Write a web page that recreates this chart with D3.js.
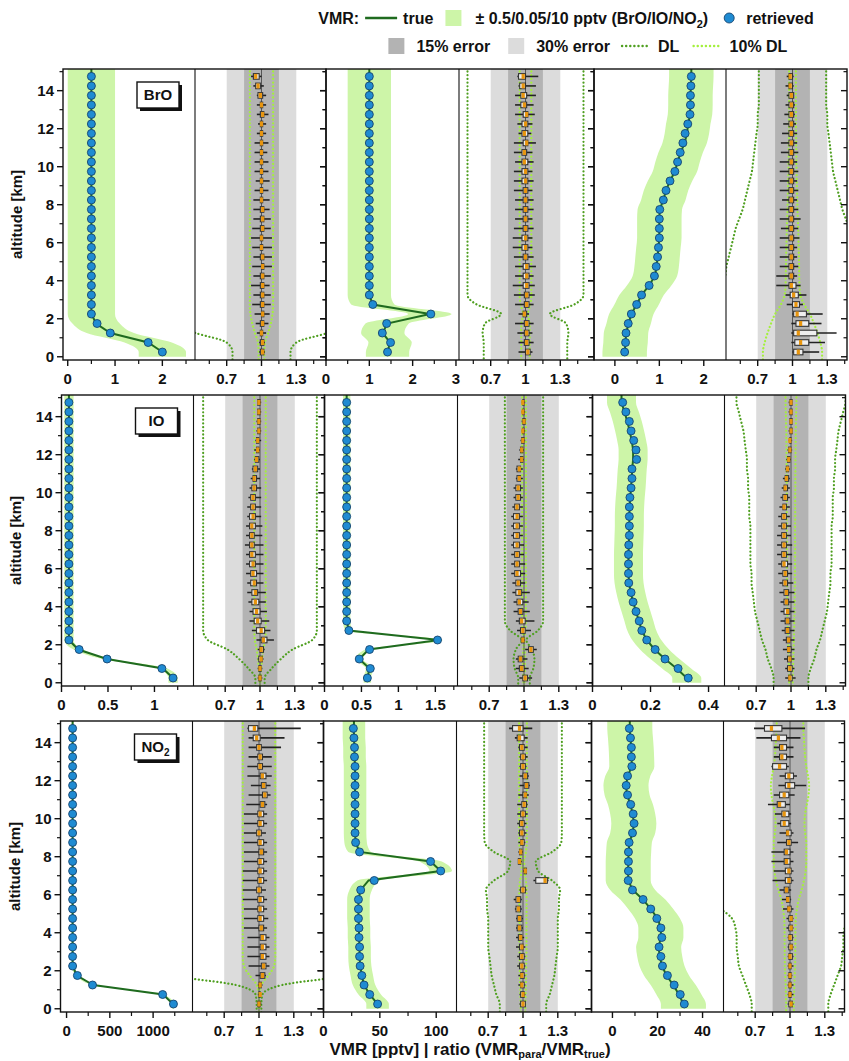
<!DOCTYPE html>
<html>
<head>
<meta charset="utf-8">
<script src="https://cdnjs.cloudflare.com/ajax/libs/d3/7.8.5/d3.min.js"></script>
<style>
  body { margin: 0; background: #fff; }
  text { font-family: "Liberation Sans", Arial, sans-serif; font-weight: bold; fill: #111; }
</style>
</head>
<body>
<script>
// altitude levels (km), top-down
var alt = [14.75,14.25,13.75,13.25,12.75,12.25,11.75,11.25,10.75,10.25,9.75,9.25,8.75,8.25,7.75,
           7.25,6.75,6.25,5.75,5.25,4.75,4.25,3.75,3.25,2.75,2.25,1.75,1.25,0.75,0.25];

// ---- VMR profiles (true / retrieved), top-down ----
var broTrue1 = [0.5,0.5,0.5,0.5,0.5,0.5,0.5,0.5,0.5,0.5,0.5,0.5,0.5,0.5,0.5,0.5,0.5,0.5,0.5,0.5,0.5,0.5,0.5,0.5,0.5,0.5,0.6,0.9,1.7,2.0];
var broRet1  = [0.5,0.5,0.5,0.5,0.5,0.5,0.5,0.5,0.5,0.5,0.5,0.5,0.5,0.5,0.5,0.5,0.5,0.5,0.5,0.5,0.5,0.5,0.5,0.5,0.5,0.5,0.62,0.9,1.7,2.0];
var broTrue2 = [1,1,1,1,1,1,1,1,1,1,1,1,1,1,1,1,1,1,1,1,1,1,1,1,1.08,2.4,1.41,1.31,1.48,1.42];
var broRet2  = [1,1,1,1,1,1,1,1,1,1,1,1,1,1,1,1,1,1,1,1,1,1,1,1,1.08,2.42,1.4,1.3,1.49,1.42];
var broTrue3 = [1.72,1.71,1.7,1.7,1.69,1.65,1.62,1.57,1.48,1.41,1.35,1.24,1.15,1.09,1.01,1.0,1.0,1.0,0.98,0.96,0.94,0.9,0.77,0.6,0.49,0.37,0.31,0.25,0.24,0.22];
var broRet3  = [1.72,1.71,1.7,1.7,1.69,1.64,1.58,1.53,1.47,1.41,1.35,1.24,1.15,1.09,1.01,1.0,1.0,1.0,0.98,0.96,0.93,0.89,0.77,0.6,0.49,0.37,0.3,0.25,0.24,0.22];

var ioTrue1 = [0.08,0.08,0.08,0.08,0.08,0.08,0.08,0.08,0.08,0.08,0.08,0.08,0.08,0.08,0.08,0.08,0.08,0.08,0.08,0.08,0.08,0.08,0.08,0.08,0.08,0.08,0.18,0.49,1.09,1.2];
var ioRet1  = [0.08,0.08,0.08,0.08,0.08,0.08,0.08,0.08,0.08,0.08,0.08,0.08,0.08,0.08,0.08,0.08,0.08,0.08,0.08,0.08,0.08,0.08,0.08,0.08,0.08,0.08,0.19,0.49,1.08,1.2];
var ioTrue2 = [0.3,0.3,0.3,0.3,0.3,0.3,0.3,0.3,0.3,0.3,0.3,0.3,0.3,0.3,0.3,0.3,0.3,0.3,0.3,0.3,0.3,0.3,0.3,0.3,0.33,1.55,0.6,0.47,0.61,0.58];
var ioRet2  = [0.3,0.3,0.3,0.3,0.3,0.3,0.3,0.3,0.3,0.3,0.3,0.3,0.3,0.3,0.3,0.3,0.3,0.3,0.3,0.3,0.3,0.3,0.3,0.3,0.33,1.53,0.61,0.47,0.62,0.58];
var ioTrue3 = [0.1,0.11,0.12,0.128,0.135,0.14,0.14,0.137,0.135,0.133,0.13,0.128,0.127,0.127,0.126,0.125,0.124,0.124,0.124,0.126,0.132,0.14,0.15,0.16,0.17,0.187,0.214,0.25,0.29,0.325];
var ioRet3  = [0.104,0.115,0.127,0.133,0.142,0.15,0.152,0.136,0.136,0.133,0.129,0.127,0.127,0.127,0.127,0.125,0.124,0.124,0.124,0.125,0.133,0.14,0.15,0.161,0.17,0.187,0.216,0.25,0.295,0.33];

var no2True1 = [70,70,70,70,70,70,70,70,70,70,70,70,70,70,70,70,70,70,70,70,70,70,70,70,70,70,120,308,1115,1230];
var no2Ret1  = [70,70,70,70,70,70,70,70,70,70,70,70,70,70,70,70,70,70,70,70,70,70,70,70,70,70,125,300,1110,1235];
var no2True2 = [27,27,27.5,27.5,28,28,28,28,28,28,28,28,28.5,32,95,104,40,33,31,31,31,31.5,31.5,32,32,32.5,34,36,41,48];
var no2Ret2  = [26.5,27,27.5,27.5,28,28,28,28,28,28,28,28,28.5,32,95,104,45,33,31,31,31,31.5,31.5,32,32,32.5,34,36,41,48];
var no2True3 = [7.7,8,8.3,8.5,8.6,6.8,6,6.5,8,9,9.5,9,7.5,7.2,7,7,7,9,13.5,17,20,21.5,21.5,20.5,21,22,24,27,29.5,31.5];
var no2Ret3  = [7.5,8,8.4,8.4,8.6,6.7,6.1,6.7,8.1,9.2,9.6,8.9,7.4,7.1,7.1,7.1,7,8.9,13.6,17,19.7,21.5,21.9,20.7,21.5,22.2,24.4,27.4,30.1,31.9];

// ---- relative detection limit (DL / VMR), top-down ----
var broDl1 = [1,1,1,1,1,1,1,1,1,1,1,1,1,1,1,1,1,1,1,1,1,1,1,1,1,0.95,0.8,0.57,0.3,0.25];
var broDl2 = [0.5,0.5,0.5,0.5,0.5,0.5,0.5,0.5,0.5,0.5,0.5,0.5,0.5,0.5,0.5,0.5,0.5,0.5,0.5,0.5,0.5,0.5,0.5,0.5,0.42,0.21,0.35,0.37,0.36,0.36];
var broDl3 = [0.29,0.29,0.29,0.29,0.3,0.3,0.31,0.32,0.33,0.34,0.35,0.37,0.39,0.41,0.43,0.46,0.49,0.51,0.53,0.55,0.57,0.58,0.6,0.68,1.0,1.5,1.85,2.15,2.4,2.55];
var ioDl1 = [0.49,0.49,0.49,0.49,0.49,0.49,0.49,0.49,0.49,0.49,0.49,0.49,0.49,0.49,0.49,0.49,0.49,0.49,0.49,0.49,0.49,0.49,0.49,0.49,0.49,0.45,0.28,0.18,0.1,0.04];
var ioDl2 = [0.165,0.165,0.165,0.165,0.165,0.165,0.165,0.165,0.165,0.165,0.165,0.165,0.165,0.165,0.165,0.165,0.165,0.165,0.165,0.165,0.165,0.165,0.165,0.165,0.12,0.02,0.07,0.09,0.08,0.05];
var ioDl3 = [0.47,0.45,0.43,0.41,0.4,0.39,0.38,0.38,0.37,0.37,0.36,0.36,0.36,0.35,0.35,0.35,0.35,0.35,0.34,0.34,0.33,0.32,0.31,0.29,0.27,0.25,0.22,0.2,0.17,0.15];
var no2Dl1 = [1.4,1.4,1.4,1.4,1.4,1.4,1.4,1.4,1.4,1.4,1.4,1.4,1.4,1.4,1.4,1.4,1.4,1.4,1.4,1.4,1.4,1.4,1.4,1.4,1.4,1.3,0.8,0.2,0.03,0.02];
var no2Dl2 = [0.335,0.335,0.335,0.335,0.335,0.335,0.335,0.335,0.335,0.335,0.335,0.335,0.33,0.25,0.11,0.13,0.25,0.32,0.31,0.31,0.3,0.3,0.3,0.3,0.29,0.28,0.27,0.25,0.23,0.2];
var no2Dl3 = [1.15,1.2,1.25,1.3,1.4,1.55,1.65,1.6,1.45,1.3,1.25,1.3,1.4,1.4,1.4,1.35,1.2,1.0,0.75,0.6,0.5,0.47,0.46,0.46,0.45,0.44,0.41,0.38,0.35,0.33];

// ---- ratio box plots [whisker low, q1, median, q3, whisker high], top-down ----
var broBox1 = [[0.91,0.93,0.95,0.98,1.0],[0.93,0.95,0.97,0.99,1.02],[0.96,0.97,0.99,1.01,1.04],[0.96,0.99,1.0,1.01,1.04],
 [0.96,0.99,1.01,1.02,1.06],[0.97,0.99,1.0,1.01,1.04],[0.96,0.99,1.0,1.01,1.04],[0.94,0.99,1.0,1.01,1.06],
 [0.94,0.99,1.0,1.01,1.05],[0.94,0.99,1.0,1.01,1.06],[0.94,0.99,1.0,1.01,1.06],[0.95,0.99,1.0,1.01,1.07],
 [0.94,0.99,1.0,1.01,1.06],[0.93,0.99,1.0,1.01,1.07],[0.93,0.99,1.01,1.02,1.07],[0.93,0.99,1.01,1.02,1.08],
 [0.92,0.99,1.01,1.02,1.08],[0.91,0.99,1.0,1.01,1.09],[0.92,0.99,1.0,1.01,1.09],[0.93,0.99,1.01,1.02,1.09],
 [0.92,1.0,1.01,1.02,1.09],[0.93,0.99,1.01,1.02,1.08],[0.91,0.99,1.01,1.02,1.07],[0.93,0.99,1.01,1.02,1.08],
 [0.92,0.99,1.01,1.02,1.08],[0.94,1.0,1.01,1.02,1.07],[0.95,0.99,1.01,1.02,1.06],[0.96,0.99,1.0,1.01,1.04],
 [0.98,0.99,1.01,1.02,1.03],[0.98,0.99,1.01,1.02,1.03]];
var broBox2 = [[0.93,0.94,0.98,1.0,1.11],[0.94,0.95,0.98,1.0,1.09],[0.91,0.96,0.98,1.01,1.09],[0.91,0.96,0.99,1.01,1.07],
 [0.91,0.98,1.01,1.02,1.08],[0.93,0.97,1.0,1.02,1.06],[0.94,0.97,0.99,1.02,1.05],[0.9,0.98,1.01,1.02,1.09],
 [0.9,0.97,0.99,1.01,1.06],[0.91,0.97,0.99,1.02,1.07],[0.9,0.97,1.0,1.02,1.06],[0.9,0.97,1.0,1.02,1.07],
 [0.9,0.98,1.0,1.02,1.06],[0.91,0.98,1.0,1.02,1.07],[0.91,0.98,1.0,1.02,1.07],[0.91,0.98,1.0,1.02,1.06],
 [0.9,0.98,1.0,1.02,1.07],[0.89,0.97,1.0,1.02,1.06],[0.89,0.97,1.0,1.02,1.06],[0.9,0.98,1.0,1.02,1.07],
 [0.91,0.98,1.01,1.03,1.09],[0.91,0.98,1.01,1.03,1.07],[0.89,0.98,1.01,1.03,1.08],[0.9,0.99,1.01,1.03,1.08],
 [0.91,0.99,1.01,1.03,1.07],[0.94,0.98,0.99,1.01,1.03],[0.91,0.99,1.01,1.03,1.07],[0.93,0.99,1.01,1.03,1.06],
 [0.94,0.99,1.01,1.03,1.07],[0.94,1.0,1.02,1.04,1.06]];
var broBox3 = [[0.95,0.97,0.98,1.0,1.01],[0.94,0.97,0.98,1.0,1.01],[0.95,0.97,0.99,1.01,1.01],[0.94,0.97,0.99,1.01,1.02],
 [0.93,0.97,0.99,1.01,1.02],[0.92,0.97,0.99,1.01,1.03],[0.91,0.97,0.99,1.01,1.04],[0.9,0.97,0.99,1.01,1.04],
 [0.9,0.97,0.99,1.01,1.05],[0.89,0.97,0.99,1.01,1.04],[0.89,0.97,0.99,1.01,1.05],[0.89,0.97,0.99,1.01,1.04],
 [0.89,0.97,0.99,1.01,1.05],[0.91,0.97,0.99,1.01,1.04],[0.89,0.97,0.99,1.01,1.05],[0.89,0.97,0.99,1.01,1.07],
 [0.9,0.97,0.99,1.01,1.05],[0.89,0.97,0.99,1.01,1.06],[0.89,0.97,0.99,1.01,1.04],[0.89,0.97,0.99,1.01,1.04],
 [0.89,0.97,0.99,1.01,1.05],[0.86,0.97,0.99,1.01,1.04],[0.86,0.97,0.99,1.03,1.07],[0.94,0.98,1.01,1.05,1.12],
 [0.95,1.0,1.03,1.06,1.09],[1.0,1.01,1.04,1.12,1.26],[0.99,1.03,1.07,1.14,1.25],[0.99,1.01,1.05,1.21,1.38],
 [0.99,1.02,1.07,1.14,1.28],[1.0,1.01,1.05,1.09,1.23]];
var ioBox1 = [[0.98,0.98,0.99,1.0,1.01],[0.98,0.98,0.99,1.0,1.01],[0.97,0.98,0.99,1.0,1.01],[0.97,0.98,0.99,1.0,1.01],
 [0.96,0.97,0.98,0.99,1.01],[0.95,0.97,0.98,0.99,1.0],[0.95,0.96,0.97,0.99,1.0],[0.93,0.94,0.96,0.98,1.0],
 [0.92,0.94,0.95,0.97,1.0],[0.91,0.93,0.95,0.97,1.01],[0.9,0.92,0.94,0.96,1.01],[0.89,0.92,0.94,0.96,1.01],
 [0.89,0.91,0.94,0.96,1.01],[0.88,0.91,0.93,0.96,1.02],[0.88,0.91,0.93,0.95,1.02],[0.87,0.91,0.93,0.95,1.03],
 [0.88,0.91,0.93,0.96,1.03],[0.88,0.91,0.94,0.96,1.03],[0.88,0.92,0.94,0.97,1.03],[0.89,0.92,0.95,0.97,1.03],
 [0.89,0.93,0.96,0.98,1.05],[0.9,0.93,0.96,0.99,1.05],[0.91,0.94,0.97,1.0,1.06],[0.91,0.95,0.98,1.01,1.08],
 [0.93,0.97,1.01,1.04,1.09],[0.97,1.01,1.03,1.06,1.12],[0.98,1.0,1.01,1.03,1.04],[0.98,0.99,1.01,1.02,1.03],
 [0.98,0.99,1.0,1.01,1.02],[0.98,0.99,1.0,1.01,1.02]];
var ioBox2 = [[0.98,0.99,0.99,1.0,1.01],[0.98,0.99,0.99,1.0,1.01],[0.98,0.99,1.0,1.01,1.01],[0.98,0.99,0.99,1.0,1.01],
 [0.97,0.98,0.99,1.0,1.01],[0.96,0.97,0.98,0.99,1.0],[0.95,0.97,0.98,0.99,1.0],[0.93,0.94,0.96,0.97,0.99],
 [0.93,0.94,0.96,0.97,0.99],[0.91,0.93,0.95,0.97,0.99],[0.91,0.93,0.95,0.97,0.99],[0.9,0.92,0.94,0.96,0.99],
 [0.89,0.91,0.94,0.96,0.99],[0.89,0.91,0.94,0.96,0.99],[0.89,0.91,0.94,0.96,0.99],[0.89,0.91,0.94,0.96,1.0],
 [0.89,0.92,0.94,0.96,1.0],[0.89,0.92,0.94,0.96,1.01],[0.89,0.92,0.94,0.97,1.01],[0.9,0.93,0.95,0.97,1.01],
 [0.9,0.93,0.96,0.98,1.05],[0.91,0.94,0.96,0.99,1.04],[0.91,0.95,0.97,0.99,1.05],[0.93,0.96,0.98,1.01,1.09],
 [0.94,0.97,0.99,1.01,1.06],[0.97,0.98,0.99,1.0,1.01],[1.01,1.04,1.06,1.08,1.11],[0.93,0.95,0.97,0.99,1.03],
 [0.93,0.96,0.98,1.0,1.04],[0.96,0.99,1.01,1.03,1.07]];
var ioBox3 = [[0.98,0.99,1.0,1.01,1.01],[0.98,0.99,1.0,1.01,1.01],[0.99,0.99,1.0,1.01,1.01],[0.98,0.99,1.0,1.01,1.01],
 [0.98,0.99,0.99,1.0,1.01],[0.97,0.98,0.99,1.0,1.01],[0.96,0.97,0.98,0.99,1.0],[0.95,0.96,0.97,0.98,0.99],
 [0.93,0.95,0.96,0.98,0.99],[0.92,0.94,0.95,0.97,0.99],[0.91,0.93,0.95,0.97,0.99],[0.9,0.93,0.94,0.96,0.99],
 [0.89,0.92,0.94,0.96,0.99],[0.89,0.92,0.94,0.96,1.0],[0.88,0.92,0.94,0.96,1.0],[0.88,0.92,0.94,0.96,1.01],
 [0.88,0.92,0.94,0.96,1.01],[0.89,0.92,0.94,0.97,1.01],[0.89,0.93,0.95,0.97,1.01],[0.9,0.93,0.95,0.97,1.02],
 [0.9,0.94,0.96,0.98,1.03],[0.91,0.94,0.96,0.98,1.03],[0.91,0.94,0.97,0.99,1.03],[0.91,0.95,0.97,0.99,1.03],
 [0.92,0.95,0.97,0.99,1.03],[0.93,0.96,0.98,0.99,1.03],[0.93,0.97,0.98,1.0,1.03],[0.94,0.97,0.99,1.0,1.03],
 [0.95,0.97,0.99,1.01,1.03],[0.95,0.98,0.99,1.01,1.04]];
var no2Box1 = [[0.9,0.91,0.96,0.99,1.36],[0.91,0.95,0.98,1.01,1.22],[0.91,0.98,1.0,1.02,1.19],[0.91,0.99,1.01,1.03,1.11],
 [0.9,0.99,1.01,1.03,1.11],[0.9,1.01,1.03,1.06,1.11],[0.93,1.02,1.04,1.06,1.1],[0.91,1.03,1.05,1.07,1.1],
 [0.89,1.01,1.03,1.05,1.07],[0.87,0.99,1.01,1.04,1.07],[0.87,0.99,1.01,1.04,1.07],[0.87,0.98,1.0,1.02,1.06],
 [0.87,0.99,1.01,1.04,1.07],[0.87,1.0,1.02,1.04,1.07],[0.87,0.99,1.01,1.04,1.07],[0.86,0.99,1.01,1.04,1.07],
 [0.86,0.99,1.01,1.04,1.07],[0.86,0.98,1.0,1.02,1.06],[0.86,0.99,1.01,1.04,1.07],[0.87,0.99,1.01,1.04,1.07],
 [0.87,0.99,1.01,1.04,1.08],[0.87,1.0,1.02,1.04,1.07],[0.9,1.01,1.03,1.06,1.09],[0.9,1.01,1.03,1.06,1.09],
 [0.9,1.01,1.03,1.06,1.09],[0.91,1.02,1.04,1.06,1.09],[0.97,1.01,1.03,1.05,1.06],[0.99,1.0,1.01,1.02,1.03],
 [0.99,1.0,1.01,1.01,1.02],[0.99,0.99,1.0,1.01,1.02]];
var no2Box2 = [[0.88,0.91,0.97,1.0,1.08],[0.93,0.95,0.97,1.01,1.04],[0.96,0.97,0.99,1.01,1.04],[0.97,0.98,1.0,1.02,1.04],
 [0.97,0.98,1.0,1.02,1.03],[0.97,1.0,1.02,1.04,1.05],[0.97,1.01,1.03,1.05,1.06],[0.96,1.0,1.02,1.03,1.05],
 [0.95,0.99,1.01,1.03,1.04],[0.95,0.98,1.0,1.02,1.04],[0.95,0.97,0.99,1.01,1.03],[0.96,0.97,0.99,1.01,1.03],
 [0.96,0.98,0.99,1.01,1.02],[0.96,0.97,0.98,0.99,1.0],[0.96,0.96,0.97,0.98,0.99],[1.0,1.01,1.02,1.03,1.03],
 [1.09,1.11,1.19,1.21,1.22],[0.97,0.98,1.0,1.02,1.03],[0.92,0.94,0.96,0.98,0.99],[0.93,0.94,0.96,0.98,0.99],
 [0.94,0.95,0.97,0.99,1.0],[0.94,0.95,0.97,0.99,1.0],[0.94,0.96,0.98,0.99,1.01],[0.94,0.97,0.99,1.0,1.02],
 [0.95,0.97,0.99,1.01,1.02],[0.95,0.97,0.99,1.01,1.02],[0.96,0.98,0.99,1.01,1.02],[0.96,0.98,0.99,1.01,1.02],
 [0.97,0.98,1.0,1.01,1.02],[0.97,0.98,1.0,1.02,1.02]];
var no2Box3 = [[0.69,0.78,0.84,0.93,1.13],[0.71,0.84,0.9,0.97,1.09],[0.86,0.91,0.93,0.97,1.03],[0.86,0.91,0.93,0.97,1.03],
 [0.84,0.85,0.91,0.97,0.99],[0.91,0.96,0.99,1.03,1.06],[0.9,0.96,0.99,1.04,1.14],[0.86,0.91,0.95,0.99,1.04],
 [0.81,0.89,0.91,0.96,1.0],[0.87,0.93,0.95,0.99,1.01],[0.89,0.92,0.95,0.99,1.01],[0.91,0.97,0.98,1.01,1.03],
 [0.89,0.97,0.99,1.01,1.07],[0.84,0.95,0.97,1.0,1.03],[0.84,0.95,0.97,1.0,1.03],[0.86,0.96,0.99,1.01,1.03],
 [0.85,0.96,0.99,1.01,1.03],[0.91,0.95,0.97,0.99,1.01],[0.93,0.97,0.98,1.0,1.01],[0.94,0.98,0.99,1.01,1.03],
 [0.97,0.99,1.01,1.02,1.03],[0.97,0.99,1.01,1.02,1.03],[0.98,0.99,1.0,1.02,1.03],[0.98,0.99,1.01,1.02,1.03],
 [0.98,0.99,1.0,1.02,1.03],[0.98,0.99,1.0,1.01,1.03],[0.98,0.99,1.0,1.01,1.02],[0.98,0.99,1.0,1.01,1.03],
 [0.98,0.99,1.0,1.01,1.03],[0.98,0.99,1.01,1.02,1.03]];

// axis ticks
var altMajor = [0,2,4,6,8,10,12,14], altMinor = [1,3,5,7,9,11,13,15];
var ratioMajor = [0.7,1,1.3], ratioMinor = [0.55,0.85,1.15,1.45];

var rows = [
  { label: "BrO", delta: 0.5, panels: [
    { dom: [-0.1,2.69], major: [0,1,2], minor: [0.5,1.5,2.5], tru: broTrue1, ret: broRet1, box: broBox1, dl: broDl1 },
    { dom: [0,3.07], major: [0,1,2,3], minor: [0.5,1.5,2.5], tru: broTrue2, ret: broRet2, box: broBox2, dl: broDl2 },
    { dom: [-0.47,2.5], major: [0,1,2], minor: [-0.5,0.5,1.5], tru: broTrue3, ret: broRet3, box: broBox3, dl: broDl3 } ]},
  { label: "IO", delta: 0.05, panels: [
    { dom: [0,1.42], major: [0,0.5,1], minor: [0.25,0.75,1.25], tru: ioTrue1, ret: ioRet1, box: ioBox1, dl: ioDl1 },
    { dom: [0,1.8], major: [0,0.5,1,1.5], minor: [0.25,0.75,1.25,1.75], tru: ioTrue2, ret: ioRet2, box: ioBox2, dl: ioDl2 },
    { dom: [0,0.455], major: [0,0.2,0.4], minor: [0.1,0.3], tru: ioTrue3, ret: ioRet3, box: ioBox3, dl: ioDl3 } ]},
  { label: "NO2", delta: 10, panels: [
    { dom: [-70,1455], major: [0,500,1000], minor: [250,750,1250], tru: no2True1, ret: no2Ret1, box: no2Box1, dl: no2Dl1 },
    { dom: [0,118], major: [0,50,100], minor: [25,75], tru: no2True2, ret: no2Ret2, box: no2Box2, dl: no2Dl2 },
    { dom: [-9.3,49.3], major: [0,20,40], minor: [10,30], tru: no2True3, ret: no2Ret3, box: no2Box3, dl: no2Dl3 } ]}
];

// ---- layout ----
var rowTops = [69, 395, 721], rowH = 291, rowShift = [0, -1.5, -2.5];
var pairX = [[63,195,326],[326,459,594],[594,726,847]];
var yDom = [-0.17, 15.14];
var ratioPx = 116, ratioOff = 66.5;

var C = {
  band: "#cdf5a8", line: "#1f6b1f", dot: "#1f8bd2", dotEdge: "#17456f",
  err30: "#dcdcdc", err15: "#b3b3b3", dl: "#4f9f20", dl10: "#a4f03c",
  med: "#e8950e", boxEdge: "#333", whisk: "#222"
};

var svg = d3.select("body").append("svg").attr("width", 849).attr("height", 1061);
var defs = svg.append("defs");
var nClip = 0;
function clip(x0, x1, y0, y1) {
  var id = "cp" + (nClip++);
  defs.append("clipPath").attr("id", id).append("rect")
    .attr("x", x0).attr("y", y0).attr("width", x1 - x0).attr("height", y1 - y0);
  return "url(#" + id + ")";
}

rows.forEach(function(row, r) {
  var top = rowTops[r], bot = top + rowH, sh = rowShift[r];
  var y = d3.scaleLinear().domain(yDom).range([bot, top]);

  row.panels.forEach(function(p, k) {
    var x0 = pairX[k][0] + sh, x1 = pairX[k][1] + sh, x2 = pairX[k][2] + sh;
    var xv = d3.scaleLinear().domain(p.dom).range([x0, x1]);
    var xr = d3.scaleLinear().domain([1 - ratioOff / ratioPx, 1 + (x2 - x1 - ratioOff) / ratioPx]).range([x1, x2]);

    // --- VMR panel ---
    var gv = svg.append("g").attr("clip-path", clip(x0, x1, top, bot));
    var pts = alt.map(function(a, i) { return { a: a, v: p.tru[i] }; });
    var bandPts = [{ a: 15.4, v: p.tru[0] }].concat(pts, [{ a: 0, v: p.tru[pts.length - 1] }]);
    gv.append("path").datum(bandPts)
      .attr("fill", C.band)
      .attr("d", d3.area().curve(d3.curveMonotoneY)
        .y(function(d) { return y(d.a); })
        .x0(function(d) { return xv(d.v - row.delta); })
        .x1(function(d) { return xv(d.v + row.delta); }));
    gv.append("path").datum([{ a: 15.4, v: p.tru[0] }].concat(pts))
      .attr("fill", "none").attr("stroke", C.line).attr("stroke-width", 2)
      .attr("d", d3.line().x(function(d) { return xv(d.v); }).y(function(d) { return y(d.a); }));
    gv.selectAll("circle").data(p.ret).join("circle")
      .attr("cx", function(d) { return xv(d); })
      .attr("cy", function(d, i) { return y(alt[i]); })
      .attr("r", 4).attr("fill", C.dot).attr("stroke", C.dotEdge).attr("stroke-width", 0.9);

    // --- ratio panel ---
    var gr = svg.append("g").attr("clip-path", clip(x1, x2, top, bot));
    gr.append("rect").attr("x", xr(0.7)).attr("width", xr(1.3) - xr(0.7))
      .attr("y", top).attr("height", rowH).attr("fill", C.err30);
    gr.append("rect").attr("x", xr(0.85)).attr("width", xr(1.15) - xr(0.85))
      .attr("y", top).attr("height", rowH).attr("fill", C.err15);

    var dlPts = [{ a: 15.4, d: p.dl[0] }].concat(alt.map(function(a, i) { return { a: a, d: p.dl[i] }; }),
                 [{ a: -0.3, d: p.dl[p.dl.length - 1] }]);
    [[1, C.dl], [0.1, C.dl10]].forEach(function(f) {
      [-1, 1].forEach(function(s) {
        gr.append("path").datum(dlPts)
          .attr("fill", "none").attr("stroke", f[1]).attr("stroke-width", 2.2)
          .attr("stroke-dasharray", "0.1,3.6").attr("stroke-linecap", "round")
          .attr("d", d3.line().curve(d3.curveMonotoneY)
            .x(function(d) { return xr(1 + s * f[0] * d.d); })
            .y(function(d) { return y(d.a); }));
      });
    });
    gr.append("line").attr("x1", xr(1)).attr("x2", xr(1)).attr("y1", top).attr("y2", bot)
      .attr("stroke", "#555").attr("stroke-width", 1);

    var bx = gr.selectAll("g.bx").data(p.box).join("g").attr("class", "bx")
      .attr("transform", function(d, i) { return "translate(0," + y(alt[i]) + ")"; });
    bx.append("line").attr("x1", function(d) { return xr(d[0]); }).attr("x2", function(d) { return xr(d[4]); })
      .attr("stroke", C.whisk).attr("stroke-width", 1.6);
    bx.append("rect").attr("x", function(d) { return xr(d[1]); })
      .attr("width", function(d) { return Math.max(xr(d[3]) - xr(d[1]), 1); })
      .attr("y", -2.8).attr("height", 5.6)
      .attr("fill", "#eeeeee").attr("stroke", C.boxEdge).attr("stroke-width", 1.1);
    bx.append("rect").attr("x", function(d) { return xr(d[2]) - 1.6; }).attr("width", 3.2)
      .attr("y", -2.5).attr("height", 5).attr("fill", C.med);

    // --- frame ---
    var gf = svg.append("g");
    gf.append("rect").attr("x", x0).attr("y", top).attr("width", x2 - x0).attr("height", rowH)
      .attr("fill", "none").attr("stroke", "#111").attr("stroke-width", 1.4);
    gf.append("line").attr("x1", x1).attr("x2", x1).attr("y1", top).attr("y2", bot)
      .attr("stroke", "#111").attr("stroke-width", 1.1);

    // altitude ticks (left edge, outward) and mirror ticks on right edge
    [x0, x2].forEach(function(xx) {
      altMajor.forEach(function(a) {
        gf.append("line").attr("x1", xx - 6).attr("x2", xx).attr("y1", y(a)).attr("y2", y(a))
          .attr("stroke", "#111").attr("stroke-width", 1.4);
      });
      altMinor.forEach(function(a) {
        gf.append("line").attr("x1", xx - 3.5).attr("x2", xx).attr("y1", y(a)).attr("y2", y(a))
          .attr("stroke", "#111").attr("stroke-width", 1.2);
      });
    });

    // x ticks
    function xTicks(sc, major, minor) {
      var d = sc.domain();
      major.filter(function(v) { return v >= d[0] - 1e-9 && v <= d[1] + 1e-9; }).forEach(function(v) {
        gf.append("line").attr("x1", sc(v)).attr("x2", sc(v)).attr("y1", bot).attr("y2", bot + 6)
          .attr("stroke", "#111").attr("stroke-width", 1.4);
        gf.append("text").attr("x", sc(v)).attr("y", bot + 24).attr("text-anchor", "middle")
          .attr("font-size", 15).text(String(v));
      });
      minor.filter(function(v) { return v > d[0] && v < d[1]; }).forEach(function(v) {
        gf.append("line").attr("x1", sc(v)).attr("x2", sc(v)).attr("y1", bot).attr("y2", bot + 4)
          .attr("stroke", "#111").attr("stroke-width", 1.2);
      });
    }
    xTicks(xv, p.major, p.minor);
    xTicks(xr, ratioMajor, ratioMinor);

    if (k === 0) {
      altMajor.forEach(function(a) {
        gf.append("text").attr("x", x0 - 9).attr("y", y(a) + 5).attr("text-anchor", "end")
          .attr("font-size", 15).text(a);
      });
      gf.append("text").attr("transform", "translate(" + (x0 - 41) + "," + (top + rowH / 2) + ") rotate(-90)")
        .attr("text-anchor", "middle").attr("font-size", 15).text("altitude [km]");

      // species tag
      var bw = 42, bh = 26, bxx = x0 + 74, byy = top + 13;
      gf.append("rect").attr("x", bxx + 3).attr("y", byy + 3).attr("width", bw).attr("height", bh).attr("fill", "#111");
      gf.append("rect").attr("x", bxx).attr("y", byy).attr("width", bw).attr("height", bh)
        .attr("fill", "#fff").attr("stroke", "#111").attr("stroke-width", 1.4);
      var t = gf.append("text").attr("x", bxx + bw / 2).attr("y", byy + bh / 2 + 5)
        .attr("text-anchor", "middle").attr("font-size", 15);
      if (row.label === "NO2") {
        t.append("tspan").text("NO");
        t.append("tspan").attr("font-size", 10).attr("dy", 4).text("2");
      } else {
        t.text(row.label);
      }
    }
  });
});

// ---- bottom axis title ----
var xt = svg.append("text").attr("x", 470).attr("y", 1055).attr("text-anchor", "middle").attr("font-size", 17);
xt.append("tspan").text("VMR [pptv] | ratio (VMR");
xt.append("tspan").attr("font-size", 11).attr("dy", 3).text("para");
xt.append("tspan").attr("dy", -3).text("/VMR");
xt.append("tspan").attr("font-size", 11).attr("dy", 3).text("true");
xt.append("tspan").attr("dy", -3).text(")");

// ---- legend ----
function legendLine(items, cx, yy) {
  var g = svg.append("g");
  var x = 0;
  items.forEach(function(it) {
    if (it.kind === "text") {
      var t = g.append("text").attr("x", x).attr("y", yy + 6).attr("font-size", 16);
      it.parts.forEach(function(pt) {
        var ts = t.append("tspan").text(pt[0]);
        if (pt[1]) ts.attr("font-size", 11).attr("dy", pt[1]);
        if (pt[2]) ts.attr("dy", pt[2]);
      });
      x += t.node().getBBox().width + it.gap;
    } else if (it.kind === "line") {
      g.append("line").attr("x1", x).attr("x2", x + it.w).attr("y1", yy).attr("y2", yy)
        .attr("stroke", it.color).attr("stroke-width", it.dash ? 2.4 : 2.5)
        .attr("stroke-dasharray", it.dash ? "0.1,4" : null).attr("stroke-linecap", it.dash ? "round" : null);
      x += it.w + it.gap;
    } else if (it.kind === "rect") {
      g.append("rect").attr("x", x).attr("y", yy - 8).attr("width", 16).attr("height", 16).attr("fill", it.color);
      x += 16 + it.gap;
    } else if (it.kind === "dot") {
      g.append("circle").attr("cx", x + 5).attr("cy", yy).attr("r", 5)
        .attr("fill", C.dot).attr("stroke", C.dotEdge).attr("stroke-width", 0.9);
      x += 10 + it.gap;
    }
  });
  g.attr("transform", "translate(" + (cx - x / 2) + ",0)");
}

legendLine([
  { kind: "text", parts: [["VMR:"]], gap: 6 },
  { kind: "line", color: C.line, w: 32, gap: 6 },
  { kind: "text", parts: [["true"]], gap: 12 },
  { kind: "rect", color: C.band, gap: 14 },
  { kind: "text", parts: [["± 0.5/0.05/10 pptv (BrO/IO/NO"], ["2", 4], [")", null, -4]], gap: 16 },
  { kind: "dot", gap: 12 },
  { kind: "text", parts: [["retrieved"]], gap: 0 }
], 566, 18);

legendLine([
  { kind: "rect", color: C.err15, gap: 12 },
  { kind: "text", parts: [["15% error"]], gap: 18 },
  { kind: "rect", color: C.err30, gap: 12 },
  { kind: "text", parts: [["30% error"]], gap: 12 },
  { kind: "line", color: C.dl, w: 28, dash: true, gap: 8 },
  { kind: "text", parts: [["DL"]], gap: 14 },
  { kind: "line", color: C.dl10, w: 28, dash: true, gap: 8 },
  { kind: "text", parts: [["10% DL"]], gap: 0 }
], 588, 46);
</script>
</body>
</html>
